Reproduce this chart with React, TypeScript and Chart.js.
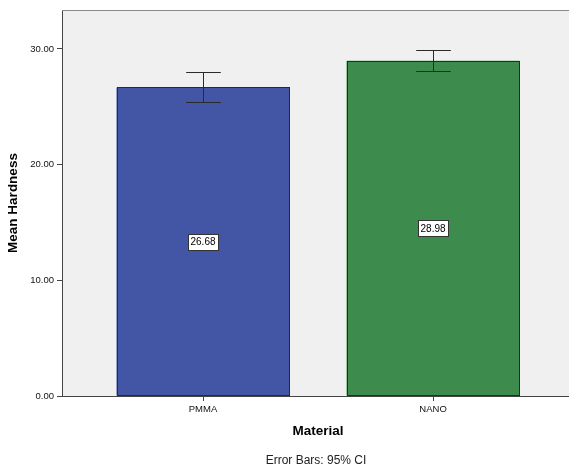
import React, { useEffect, useRef } from "react";
import { Chart, registerables } from "chart.js";

Chart.register(...registerables);

const categories = ["PMMA", "NANO"];
const meanValues = [26.68, 28.98];
const ciLower = [25.44, 28.1];
const ciUpper = [27.98, 29.88];
const barColors = ["#4355A5", "#3E8B4E"];
const yTickValues = [0, 10, 20, 30];
const yTitle = "Mean Hardness";
const xTitle = "Material";
const footnote = "Error Bars: 95% CI";

const FONT = "'Liberation Sans', Arial, sans-serif";

const decorPlugin = {
  id: "decor",
  beforeDraw(chart: any) {
    const { ctx, chartArea } = chart;
    ctx.save();
    ctx.fillStyle = "#F0F0F0";
    ctx.fillRect(chartArea.left, chartArea.top, chartArea.right - chartArea.left, chartArea.bottom - chartArea.top);
    ctx.restore();
  },
  afterDatasetsDraw(chart: any) {
    const { ctx } = chart;
    const meta = chart.getDatasetMeta(0);
    const yScale = chart.scales.y;
    ctx.save();
    // crisp bar outlines
    ctx.strokeStyle = "#2a2a2a";
    ctx.lineWidth = 1;
    meta.data.forEach((bar: any) => {
      const l = Math.round(bar.x - bar.width / 2) + 0.5;
      const r = Math.round(bar.x + bar.width / 2) - 0.5;
      const t = Math.round(bar.y) + 0.5;
      const b = Math.round(bar.base) - 0.5;
      ctx.strokeRect(l, t, r - l, b - t);
    });
    // error bars
    ctx.strokeStyle = "#2b2b2b";
    meta.data.forEach((bar: any, i: number) => {
      const x = Math.round(bar.x) + 0.5;
      const yLo = Math.round(yScale.getPixelForValue(ciLower[i])) + 0.5;
      const yHi = Math.round(yScale.getPixelForValue(ciUpper[i])) + 0.5;
      const half = bar.width * 0.1;
      ctx.beginPath();
      ctx.moveTo(x, yLo);
      ctx.lineTo(x, yHi);
      ctx.moveTo(x - half, yLo);
      ctx.lineTo(x + half, yLo);
      ctx.moveTo(x - half, yHi);
      ctx.lineTo(x + half, yHi);
      ctx.stroke();
    });
    // value labels
    ctx.font = `10px ${FONT}`;
    ctx.textAlign = "center";
    ctx.textBaseline = "middle";
    meta.data.forEach((bar: any, i: number) => {
      const text = meanValues[i].toFixed(2);
      const x = bar.x;
      const y = yScale.getPixelForValue(meanValues[i] / 2);
      const w = Math.ceil(ctx.measureText(text).width) + 4;
      const h = 16;
      const bx = Math.round(x - w / 2) + 0.5;
      const by = Math.round(y - h / 2) + 0.5;
      ctx.fillStyle = "#FFFFFF";
      ctx.fillRect(bx, by, w, h);
      ctx.strokeStyle = "#333333";
      ctx.strokeRect(bx, by, w, h);
      ctx.fillStyle = "#000000";
      ctx.fillText(text, x, y + 0.5);
    });
    ctx.restore();
  },
  afterDraw(chart: any) {
    const { ctx, chartArea } = chart;
    ctx.save();
    // top border
    ctx.strokeStyle = "#8a8a8a";
    ctx.lineWidth = 1;
    ctx.beginPath();
    ctx.moveTo(chartArea.left, chartArea.top + 0.5);
    ctx.lineTo(chartArea.right, chartArea.top + 0.5);
    ctx.stroke();
    // titles
    ctx.fillStyle = "#000000";
    ctx.textAlign = "center";
    ctx.textBaseline = "middle";
    ctx.font = `bold 13.5px ${FONT}`;
    ctx.save();
    ctx.translate(13, 203);
    ctx.rotate(-Math.PI / 2);
    ctx.fillText(yTitle, 0, 0);
    ctx.restore();
    ctx.fillText(xTitle, 318, 431);
    ctx.fillStyle = "#222222";
    ctx.font = `12px ${FONT}`;
    ctx.fillText(footnote, 316, 461);
    ctx.restore();
  },
};

export default function App() {
  const ref = useRef<HTMLCanvasElement>(null);
  useEffect(() => {
    if (!ref.current) return;
    const chart = new Chart(ref.current, {
      type: "bar",
      data: {
        datasets: [
          {
            data: categories.map((c, i) => ({ x: i, y: meanValues[i] })),
            backgroundColor: barColors,
            borderWidth: 0,
            barPercentage: 0.752,
            categoryPercentage: 1,
          },
        ],
      },
      options: {
        animation: false,
        responsive: false,
        layout: { padding: { top: 10, left: 0, right: 0, bottom: 0 } },
        plugins: { legend: { display: false }, tooltip: { enabled: false } },
        scales: {
          x: {
            type: "linear",
            offset: false,
            min: -0.613,
            max: 1.591,
            afterBuildTicks: (scale: any) => {
              scale.ticks = categories.map((_, i) => ({ value: i }));
            },
            afterFit: (scale: any) => {
              scale.height = 72;
            },
            ticks: {
              callback: (v: any) => categories[v] ?? "",
              font: { family: FONT, size: 9.5 },
              color: "#111",
              padding: 3,
              maxRotation: 0,
              autoSkip: false,
            },
            grid: { offset: false, drawOnChartArea: false, drawTicks: true, tickLength: 5, color: "#444" },
            border: { display: true, color: "#444" },
          },
          y: {
            type: "linear",
            min: 0,
            max: 33.37,
            afterBuildTicks: (scale: any) => {
              scale.ticks = yTickValues.map((v) => ({ value: v }));
            },
            afterFit: (scale: any) => {
              scale.width = 62;
            },
            ticks: {
              callback: (v: any) => Number(v).toFixed(2),
              font: { family: FONT, size: 9.5 },
              color: "#111",
              padding: 3,
            },
            grid: { drawOnChartArea: false, drawTicks: true, tickLength: 5, color: "#444" },
            border: { display: true, color: "#444" },
          },
        },
      },
      plugins: [decorPlugin],
    } as any);
    return () => chart.destroy();
  }, []);
  return (
    <div style={{ position: "absolute", left: 0, top: 0, width: 569, height: 468, background: "#fff" }}>
      <canvas ref={ref} width={569} height={468} style={{ display: "block" }} />
    </div>
  );
}
